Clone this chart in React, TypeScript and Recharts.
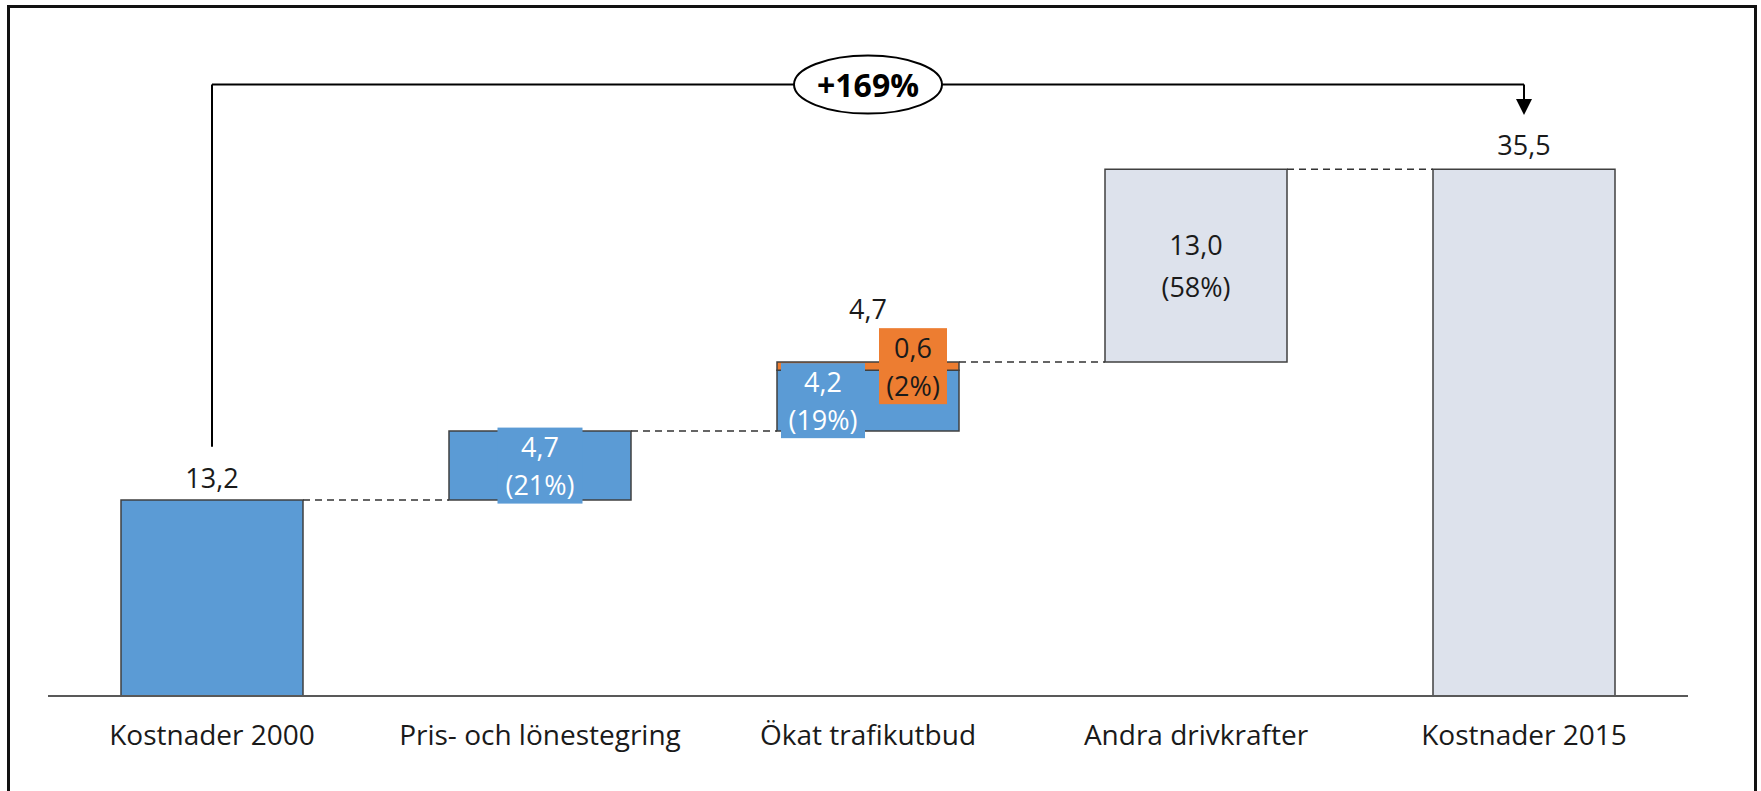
import { Bar, BarChart, LabelList, ReferenceDot, ReferenceLine, XAxis, YAxis } from "recharts";

const FONT = "'Open Sans', 'Noto Sans', sans-serif";

const categories = [
  "Kostnader 2000",
  "Pris- och lönestegring",
  "Ökat trafikutbud",
  "Andra drivkrafter",
  "Kostnader 2015",
];

// segment values per category (mdkr)
const blueValues = [13.2, 4.65, 4.1, 0, 0];
const orangeValues = [0, 0, 0.55, 0, 0];
const greyValues = [0, 0, 0, 13.0, 35.5];

// printed labels, one list of lines per category
const blueLabels = [["13,2"], ["4,7", "(21%)"], ["4,2", "(19%)"], [], []];
const orangeLabels = [[], [], ["0,6", "(2%)"], [], []];
const greyLabels = [[], [], [], ["13,0", "(58%)"], ["35,5"]];
const stepTotals = ["", "", "4,7", "", ""];
const changeLabel = "+169%";

// bracket above the chart, in axis units
const bracketLevel = 41.2;
const bracketDrop = 16.8;
const arrowTip = 39.15;

const BLUE = "#5b9bd5";
const ORANGE = "#ed7d31";
const GREY = "#dde2ec";
const EDGE = "#404040";
const INK = "#1a1a1a";
const BAR = 182;

// waterfall: floating bars sit on the running total, the last one is a total
let running = 0;
const rows = categories.map((name, i) => {
  const last = i === categories.length - 1;
  const base = i === 0 || last ? 0 : running;
  running += blueValues[i] + orangeValues[i] + greyValues[i];
  return { name, idx: i, base, blue: blueValues[i], orange: orangeValues[i], grey: greyValues[i] };
});
const tops = rows.map((r) => r.base + r.blue + r.orange + r.grey);

function geom(props: any) {
  const vb = props.viewBox ?? props;
  return { x: +vb.x, y: +vb.y, w: +vb.width, h: +vb.height };
}

function Lines({ cx, cy, lines, fill, gap = 38 }: any) {
  const start = cy - ((lines.length - 1) * gap) / 2;
  return (
    <>
      {lines.map((t: string, k: number) => (
        <text
          key={k}
          x={cx}
          y={start + k * gap}
          textAnchor="middle"
          dominantBaseline="central"
          fontFamily={FONT}
          fontSize={27}
          fill={fill}
        >
          {t}
        </text>
      ))}
    </>
  );
}

function Boxed({ cx, cy, w, h, bg, lines, fill }: any) {
  return (
    <g>
      <rect x={cx - w / 2} y={cy - h / 2} width={w} height={h} fill={bg} />
      <Lines cx={cx} cy={cy} lines={lines} fill={fill} />
    </g>
  );
}

// LabelList skips empty segments, so the category index travels as the label value
function blueLabel(props: any) {
  const i = Number(props.value);
  const lines = blueLabels[i];
  if (!lines || !lines.length) return null;
  const { x, y, w, h } = geom(props);
  const cx = x + w / 2;
  if (i === 0) return <Lines cx={cx} cy={y - 23} lines={lines} fill={INK} />;
  if (i === 2) return <Boxed cx={cx - 45} cy={y + h / 2} w={84} h={75} bg={BLUE} lines={lines} fill="#fff" />;
  return <Boxed cx={cx} cy={y + h / 2} w={85} h={76} bg={BLUE} lines={lines} fill="#fff" />;
}

function orangeLabel(props: any) {
  const i = Number(props.value);
  const lines = orangeLabels[i];
  if (!lines || !lines.length) return null;
  const { x, y, w, h } = geom(props);
  const cx = x + w / 2;
  return (
    <g>
      <Boxed cx={cx + 45} cy={y + h / 2} w={68} h={76} bg={ORANGE} lines={lines} fill={INK} />
      <Lines cx={cx} cy={y - 54} lines={[stepTotals[i]]} fill={INK} />
    </g>
  );
}

function greyLabel(props: any) {
  const i = Number(props.value);
  const lines = greyLabels[i];
  if (!lines || !lines.length) return null;
  const { x, y, w, h } = geom(props);
  const cx = x + w / 2;
  if (i === categories.length - 1) return <Lines cx={cx} cy={y - 25} lines={lines} fill={INK} />;
  return <Lines cx={cx} cy={y + h / 2} lines={lines} fill={INK} gap={42} />;
}

// connector drawn only in the gap between two bars
function Connector(props: any) {
  const { x1, y1, x2, y2 } = props;
  return (
    <line
      x1={x1 + BAR / 2}
      y1={y1}
      x2={x2 - BAR / 2}
      y2={y2}
      stroke="#333"
      strokeWidth={1.5}
      strokeDasharray="7 5"
    />
  );
}

function ArrowLeg(props: any) {
  const { x1, y1, x2, y2 } = props;
  return (
    <g>
      <line x1={x1} y1={y1} x2={x2} y2={y2 - 15} stroke="#000" strokeWidth={2} />
      <polygon points={`${x2 - 8},${y2 - 16} ${x2 + 8},${y2 - 16} ${x2},${y2}`} fill="#000" />
    </g>
  );
}

function ChangeBadge(props: any) {
  const { cx, cy } = props;
  return (
    <g>
      <ellipse cx={cx} cy={cy} rx={74} ry={29} fill="#fff" stroke="#000" strokeWidth={2} />
      <text
        x={cx}
        y={cy}
        textAnchor="middle"
        dominantBaseline="central"
        fontFamily={FONT}
        fontWeight={700}
        fontSize={32}
        fill="#000"
      >
        {changeLabel}
      </text>
    </g>
  );
}

export default function App() {
  const last = categories.length - 1;
  return (
    <div style={{ position: "absolute", left: 0, top: 0, width: 1761, height: 791, background: "#fff" }}>
      <div
        style={{
          position: "absolute",
          left: 7,
          top: 5,
          width: 1750,
          height: 820,
          border: "3px solid #111",
          boxSizing: "border-box",
        }}
      />
      <div style={{ position: "absolute", left: 0, top: 0 }}>
        <BarChart
          width={1761}
          height={791}
          data={rows}
          barSize={BAR}
          margin={{ top: 43, right: 73, left: 48, bottom: 35 }}
        >
          <XAxis
            dataKey="name"
            interval={0}
            height={60}
            tickLine={false}
            tickMargin={23}
            axisLine={{ stroke: "#595959", strokeWidth: 2 }}
            tick={{ fill: INK, fontSize: 28, fontFamily: FONT }}
          />
          <YAxis hide type="number" domain={[0, 44]} />
          {rows.slice(0, last).map((r, i) => (
            <ReferenceLine
              key={"c" + i}
              segment={[
                { x: categories[i], y: tops[i] },
                { x: categories[i + 1], y: tops[i] },
              ]}
              shape={Connector}
            />
          ))}
          <Bar dataKey="base" stackId="w" fill="transparent" isAnimationActive={false} />
          <Bar dataKey="blue" stackId="w" fill={BLUE} stroke={EDGE} strokeWidth={1.5} isAnimationActive={false}>
            <LabelList dataKey="idx" content={blueLabel} />
          </Bar>
          <Bar dataKey="orange" stackId="w" fill={ORANGE} stroke={EDGE} strokeWidth={1.5} isAnimationActive={false}>
            <LabelList dataKey="idx" content={orangeLabel} />
          </Bar>
          <Bar dataKey="grey" stackId="w" fill={GREY} stroke={EDGE} strokeWidth={1.5} isAnimationActive={false}>
            <LabelList dataKey="idx" content={greyLabel} />
          </Bar>
          <ReferenceLine
            segment={[
              { x: categories[0], y: bracketDrop },
              { x: categories[0], y: bracketLevel },
            ]}
            stroke="#000"
            strokeWidth={2}
          />
          <ReferenceLine
            segment={[
              { x: categories[0], y: bracketLevel },
              { x: categories[last], y: bracketLevel },
            ]}
            stroke="#000"
            strokeWidth={2}
          />
          <ReferenceLine
            segment={[
              { x: categories[last], y: bracketLevel },
              { x: categories[last], y: arrowTip },
            ]}
            shape={ArrowLeg}
          />
          <ReferenceDot x={categories[2]} y={bracketLevel} shape={ChangeBadge} />
        </BarChart>
      </div>
    </div>
  );
}
